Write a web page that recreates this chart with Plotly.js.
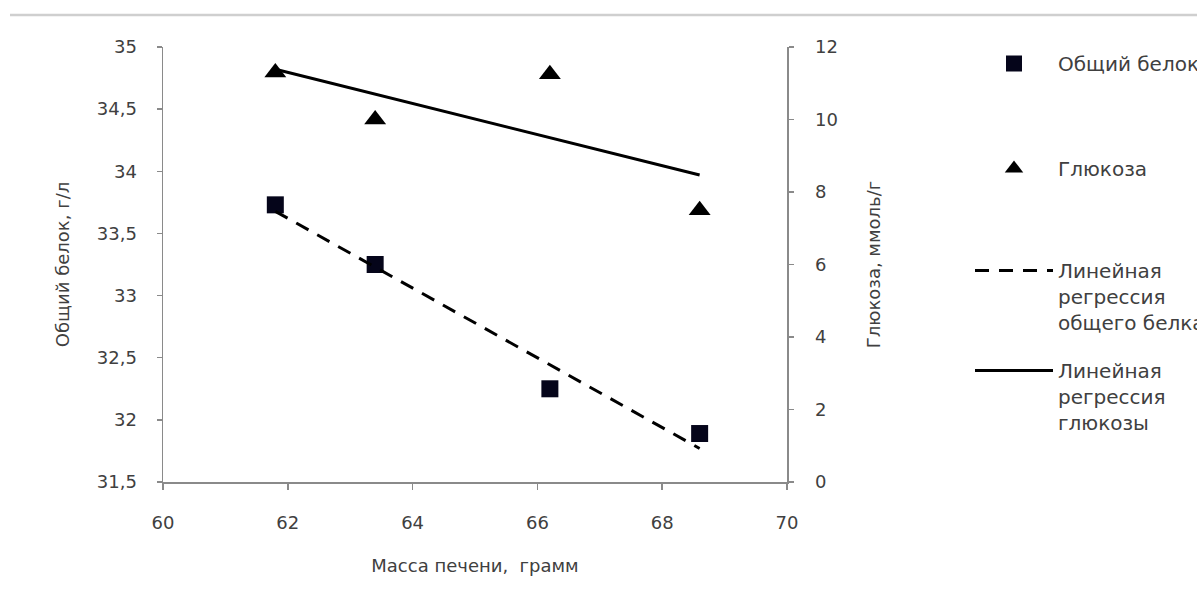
<!DOCTYPE html>
<html><head><meta charset="utf-8">
<script src="https://cdn.plot.ly/plotly-3.0.1.min.js"></script>
<style>html,body{margin:0;padding:0;background:#fff}#chart{width:1197px;height:606px}</style>
</head><body><div id="chart"></div>
<script>
// Data
const liverMass = [61.8, 63.4, 66.2, 68.6];          // Масса печени, грамм
const totalProtein = [33.73, 33.25, 32.25, 31.89];   // Общий белок, г/л
const glucose = [11.3, 10.0, 11.25, 7.5];            // Глюкоза, ммоль/г
const xTickVals = [60, 62, 64, 66, 68, 70];
const yTickVals = [31.5, 32, 32.5, 33, 33.5, 34, 34.5, 35];
const y2TickVals = [0, 2, 4, 6, 8, 10, 12];

const names = {
  protein: 'Общий белок',
  glucose: 'Глюкоза',
  protReg: 'Линейная<br>регрессия<br>общего белка',
  glucReg: 'Линейная<br>регрессия<br>глюкозы'
};

// least-squares trendline across the observed x range
function trend(x, y) {
  const n = x.length;
  const mx = x.reduce((a, b) => a + b, 0) / n;
  const my = y.reduce((a, b) => a + b, 0) / n;
  let sxy = 0, sxx = 0;
  for (let i = 0; i < n; i++) { sxy += (x[i] - mx) * (y[i] - my); sxx += (x[i] - mx) ** 2; }
  const k = sxy / sxx, b = my - k * mx;
  const xs = [Math.min(...x), Math.max(...x)];
  return { x: xs, y: xs.map(v => k * v + b) };
}
const protTrend = trend(liverMass, totalProtein);
const glucTrend = trend(liverMass, glucose);

const FONT = 'DejaVu Sans, Verdana, sans-serif';
const TXT = '#404040';
const AX = '#8a8a8a';
const FS = 18;

const traces = [
  { type: 'scatter', mode: 'markers', x: liverMass, y: totalProtein, name: names.protein,
    marker: { symbol: 'square', size: 17, color: '#05051a' }, legend: 'legend' },
  { type: 'scatter', mode: 'markers', x: liverMass, y: glucose, name: names.glucose, yaxis: 'y2',
    marker: { symbol: 'triangle-up', size: 19, color: '#000' }, legend: 'legend2' },
  { type: 'scatter', mode: 'lines', x: protTrend.x, y: protTrend.y, name: names.protReg,
    line: { color: '#000', width: 3, dash: '14px,10px' }, legend: 'legend3' },
  { type: 'scatter', mode: 'lines', x: glucTrend.x, y: glucTrend.y, name: names.glucReg, yaxis: 'y2',
    line: { color: '#000', width: 3 }, legend: 'legend4' }
];

const W = 1197, H = 606;
const legBase = { xref: 'container', yref: 'container', xanchor: 'left', yanchor: 'top',
  bgcolor: 'rgba(0,0,0,0)', borderwidth: 0, valign: 'top', itemwidth: 78,
  font: { family: FONT, size: 20, color: TXT } };

const layout = {
  width: W, height: H,
  margin: { l: 163, r: W - 787, t: 47, b: H - 482 },
  paper_bgcolor: '#fff', plot_bgcolor: '#fff',
  separators: ', ',
  font: { family: FONT, size: FS, color: TXT },
  showlegend: true,
  xaxis: {
    range: [60, 70], tickvals: xTickVals, showgrid: false, zeroline: false,
    showline: true, linecolor: AX, linewidth: 1.5,
    ticks: 'outside', ticklen: 6, tickcolor: AX, tickwidth: 1.5,
    ticklabelstandoff: 18,
    tickfont: { family: FONT, size: FS, color: TXT },
    title: { text: 'Масса печени,\u00a0 грамм', standoff: 27, font: { family: FONT, size: FS, color: TXT } }
  },
  yaxis: {
    range: [31.5, 35], tickvals: yTickVals, showgrid: false, zeroline: false,
    showline: true, linecolor: AX, linewidth: 1.5,
    ticks: 'outside', ticklen: 5, tickcolor: AX, tickwidth: 1.5,
    ticklabelstandoff: 16,
    tickfont: { family: FONT, size: FS, color: TXT },
    title: { text: 'Общий белок, г/л', standoff: 22, font: { family: FONT, size: FS, color: TXT } }
  },
  yaxis2: {
    overlaying: 'y', side: 'right', range: [0, 12], tickvals: y2TickVals,
    showgrid: false, zeroline: false,
    showline: true, linecolor: AX, linewidth: 1.5,
    ticks: 'outside', ticklen: 5, tickcolor: AX, tickwidth: 1.5,
    ticklabelstandoff: 18,
    tickfont: { family: FONT, size: FS, color: TXT },
    title: { text: 'Глюкоза, ммоль/г', standoff: 30, font: { family: FONT, size: FS, color: TXT } }
  },
  legend:  Object.assign({}, legBase, { x: 970 / W, y: 1 - 44 / H }),
  legend2: Object.assign({}, legBase, { x: 970 / W, y: 1 - 149 / H }),
  legend3: Object.assign({}, legBase, { x: 970 / W, y: 1 - 251 / H }),
  legend4: Object.assign({}, legBase, { x: 970 / W, y: 1 - 351 / H }),
  shapes: [
    { type: 'line', xref: 'paper', yref: 'paper',
      x0: (10 - 163) / 624, x1: (1197 - 163) / 624, y0: (482 - 15) / 435, y1: (482 - 15) / 435,
      line: { color: '#cfcfcf', width: 2.5 } }
  ]
};

Plotly.newPlot('chart', traces, layout, { displayModeBar: false, staticPlot: true });
</script>
</body></html>
